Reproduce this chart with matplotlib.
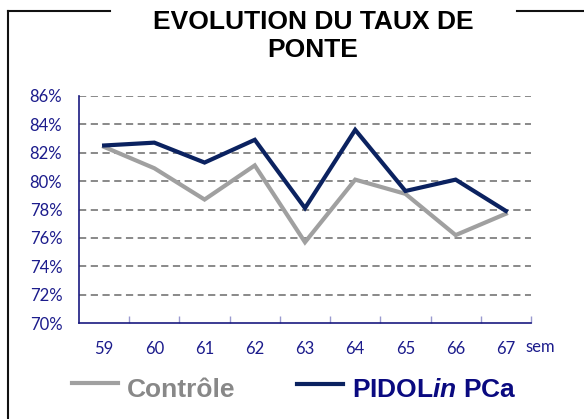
import matplotlib.pyplot as plt
from matplotlib.lines import Line2D
from matplotlib.ticker import FixedLocator

semaines = ["59", "60", "61", "62", "63", "64", "65", "66", "67"]
controle = [82.4, 80.9, 78.7, 81.1, 75.7, 80.1, 79.1, 76.2, 77.7]
pidolin = [82.5, 82.7, 81.3, 82.9, 78.1, 83.6, 79.3, 80.1, 77.9]
y_ticks = [70, 72, 74, 76, 78, 80, 82, 84, 86]

NAVY_TXT = "#1c1c8c"
NAVY_LINE = "#0b2260"
GRAY_LINE = "#a0a0a0"


def generer_graphique():
    fig = plt.figure(figsize=(5.84, 4.19), dpi=100)
    ax = fig.add_axes([0.1353, 0.2284, 0.7739, 0.5432])

    x = range(len(semaines))
    ax.plot(x, controle, color=GRAY_LINE, lw=3, solid_joinstyle="miter", zorder=3)
    ax.plot(x, pidolin, color=NAVY_LINE, lw=3, solid_joinstyle="miter", zorder=4)

    ax.set_xlim(-0.5, len(semaines) - 0.5)
    ax.set_ylim(70, 86)
    ax.set_yticks(y_ticks)
    ax.set_yticklabels([f"{v}%" for v in y_ticks], fontfamily="Lato", fontsize=12, color=NAVY_TXT)
    ax.tick_params(axis="y", length=0, pad=12)
    for v in y_ticks[1:]:
        ax.axhline(v, color="#808080", lw=1.3, ls=(0, (4, 2.5)), zorder=1)

    ax.set_xticks(list(x))
    ax.set_xticklabels(semaines, fontfamily="Lato", fontsize=12, color=NAVY_TXT)
    ax.tick_params(axis="x", which="major", length=0, pad=13)
    ax.xaxis.set_minor_locator(FixedLocator([i + 0.5 for i in range(len(semaines))]))
    ax.tick_params(axis="x", which="minor", direction="in", length=5, color="#9a9ad0", width=1)
    ax.text(0.987, -0.105, "sem", transform=ax.transAxes, fontfamily="Lato", fontsize=12,
            color=NAVY_TXT, ha="left", va="center")

    for s in ["top", "right"]:
        ax.spines[s].set_visible(False)
    for s in ["left", "bottom"]:
        ax.spines[s].set_color("#1a1a80")
        ax.spines[s].set_linewidth(1.2)

    # cadre autour du graphique, coupé par le titre
    W, H = 584.0, 419.0
    cadre = dict(color="#111111", lw=1.5, transform=fig.transFigure)
    fig.add_artist(Line2D([8 / W, 8 / W], [1 - 11 / H, 0], **cadre))
    fig.add_artist(Line2D([8 / W, 110 / W], [1 - 11 / H, 1 - 11 / H], **cadre))
    fig.add_artist(Line2D([517 / W, 1], [1 - 11 / H, 1 - 11 / H], **cadre))

    fig.text(313 / W, 1 - 36 / H, "EVOLUTION DU TAUX DE\nPONTE", ha="center", va="center",
             fontfamily="Liberation Sans", fontweight="bold", fontsize=19, linespacing=1.2)

    # légende
    fig.add_artist(Line2D([72 / W, 118 / W], [1 - 383 / H] * 2, color=GRAY_LINE, lw=3,
                          transform=fig.transFigure))
    fig.text(127 / W, 1 - 390 / H, "Contrôle", ha="left", va="center", color="#888888",
             fontfamily="Liberation Sans", fontweight="bold", fontsize=19)
    fig.add_artist(Line2D([297 / W, 343 / W], [1 - 384 / H] * 2, color=NAVY_LINE, lw=3,
                          transform=fig.transFigure))
    fig.text(352 / W, 1 - 390 / H, r"PIDOL$\bfit{in}$ PCa", ha="left", va="center",
             color="#0a0a80", fontfamily="Liberation Sans", fontweight="bold", fontsize=19)

    fig.savefig("out.png", dpi=100)


if __name__ == "__main__":
    plt.rcParams["mathtext.fontset"] = "custom"
    plt.rcParams["mathtext.bfit"] = "Liberation Sans:bold:italic"
    generer_graphique()
